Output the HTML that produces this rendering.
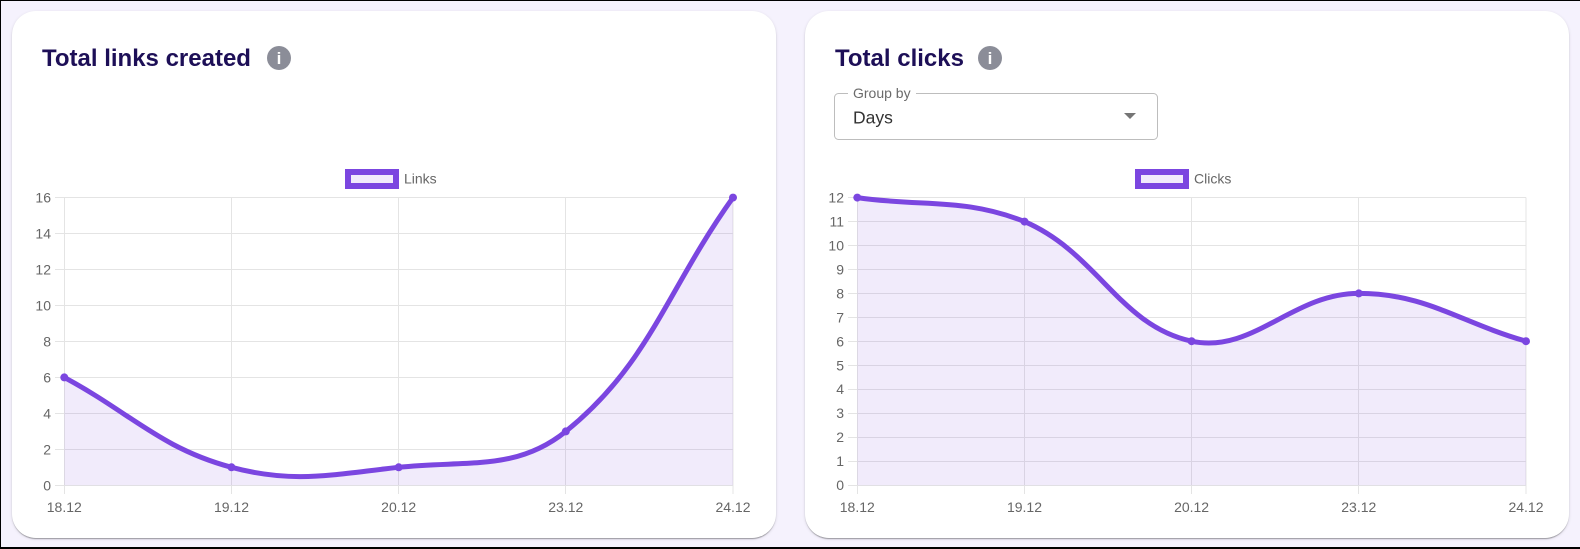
<!DOCTYPE html>
<html><head><meta charset="utf-8"><style>
*{margin:0;padding:0;box-sizing:border-box}
html,body{width:1580px;height:549px;overflow:hidden;background:#f5f2fd;font-family:"Liberation Sans",sans-serif;position:relative}
.bt{position:absolute;background:#000}
.card{position:absolute;top:11px;width:764px;height:527px;background:#fff;border-radius:24px;box-shadow:0 2px 1px -1px rgba(0,0,0,.2),0 1px 1px 0 rgba(0,0,0,.14),0 1px 3px 0 rgba(0,0,0,.12)}
svg{position:absolute;left:0;top:0}
</style></head><body>
<div class="bt" style="left:0;top:0;width:1580px;height:1px"></div>
<div class="bt" style="left:0;top:0;width:1px;height:549px"></div>
<div class="bt" style="left:0;top:547px;width:1580px;height:2px"></div>
<div class="card" style="left:12px"></div>
<div class="card" style="left:805px"></div>
<svg width="1580" height="549" viewBox="0 0 1580 549" font-family="Liberation Sans, sans-serif">
<!-- Titles -->
<text x="42" y="66" font-size="24" font-weight="bold" fill="#1d0f57">Total links created</text>
<circle cx="279" cy="58" r="12" fill="#8b8d98"/>
<text x="279" y="64" font-size="17" font-weight="bold" fill="#fff" text-anchor="middle">i</text>
<text x="835" y="66" font-size="24" font-weight="bold" fill="#1d0f57">Total clicks</text>
<circle cx="990" cy="58" r="12" fill="#8b8d98"/>
<text x="990" y="64" font-size="17" font-weight="bold" fill="#fff" text-anchor="middle">i</text>
<!-- Dropdown -->
<rect x="834.5" y="93.5" width="323" height="46" rx="4" fill="#fff" stroke="#bdbdbd" stroke-width="1"/>
<rect x="848" y="90" width="68" height="7" fill="#fff"/>
<text x="853" y="98" font-size="14" fill="#6b6b6b">Group by</text>
<text x="853" y="123.3" font-size="17.5" fill="#333">Days</text>
<polygon points="1124,113 1136,113 1130,119" fill="#757575"/>

<!-- Legends -->
<rect x="345" y="169" width="54" height="20" fill="#7b46e0"/>
<rect x="351" y="175" width="42" height="8" fill="#f1ebfb"/>
<text x="404" y="183.3" font-size="14" fill="#666">Links</text>
<rect x="1135" y="169" width="54" height="20" fill="#7b46e0"/>
<rect x="1141" y="175" width="42" height="8" fill="#f1ebfb"/>
<text x="1194" y="183.3" font-size="14" fill="#666">Clicks</text>

<!-- Left grid -->
<g stroke="#e4e4e4" stroke-width="1" fill="none">
<path d="M55 485.5H733 M55 449.5H733 M55 413.5H733 M55 377.5H733 M55 341.5H733 M55 305.5H733 M55 269.5H733 M55 233.5H733 M55 197.5H733"/>
<path d="M64.5 197.5V494 M231.5 197.5V494 M398.5 197.5V494 M565.5 197.5V494 M733 197.5V494"/>
</g>
<!-- Right grid -->
<g stroke="#e4e4e4" stroke-width="1" fill="none">
<path d="M848 485.5H1526 M848 461.5H1526 M848 437.5H1526 M848 413.5H1526 M848 389.5H1526 M848 365.5H1526 M848 341.5H1526 M848 317.5H1526 M848 293.5H1526 M848 269.5H1526 M848 245.5H1526 M848 221.5H1526 M848 197.5H1526"/>
<path d="M857.5 197.5V494 M1024.5 197.5V494 M1191.5 197.5V494 M1358.5 197.5V494 M1526 197.5V494"/>
</g>

<!-- Left series -->
<path d="M64.3,377.4 C131.2,413.4 160.4,448.2 231.5,467.3 C294.1,484.1 332.6,474.4 398.7,467.3 C466.3,460.0 515.9,471.6 565.8,431.4 C649.6,363.8 666.1,291.1 733,197.6 L733,485.3 L64.3,485.3 Z" fill="rgba(125,70,222,0.11)"/>
<path d="M64.3,377.4 C131.2,413.4 160.4,448.2 231.5,467.3 C294.1,484.1 332.6,474.4 398.7,467.3 C466.3,460.0 515.9,471.6 565.8,431.4 C649.6,363.8 666.1,291.1 733,197.6" fill="none" stroke="#7b46e0" stroke-width="5" stroke-linejoin="round" stroke-linecap="round"/>
<g fill="#7b46e0">
<circle cx="64.3" cy="377.4" r="4"/><circle cx="231.5" cy="467.3" r="4"/><circle cx="398.7" cy="467.3" r="4"/><circle cx="565.8" cy="431.4" r="4"/><circle cx="733" cy="197.6" r="4"/>
</g>

<!-- Right series -->
<path d="M857.3,197.6 C924.2,207.2 964.2,197.6 1024.5,221.6 C1097.9,253.1 1119.2,325.6 1191.6,341.2 C1252.9,354.4 1291.9,293.4 1358.8,293.4 C1425.7,293.4 1459.1,322.1 1526,341.2 L1526,485.3 L857.3,485.3 Z" fill="rgba(125,70,222,0.11)"/>
<path d="M857.3,197.6 C924.2,207.2 964.2,197.6 1024.5,221.6 C1097.9,253.1 1119.2,325.6 1191.6,341.2 C1252.9,354.4 1291.9,293.4 1358.8,293.4 C1425.7,293.4 1459.1,322.1 1526,341.2" fill="none" stroke="#7b46e0" stroke-width="5" stroke-linejoin="round" stroke-linecap="round"/>
<g fill="#7b46e0">
<circle cx="857.3" cy="197.6" r="4"/><circle cx="1024.5" cy="221.6" r="4"/><circle cx="1191.6" cy="341.2" r="4"/><circle cx="1358.8" cy="293.4" r="4"/><circle cx="1526" cy="341.2" r="4"/>
</g>

<!-- Left axis labels -->
<g font-size="14" fill="#666" text-anchor="end">
<text x="51" y="490.3">0</text><text x="51" y="454.3">2</text><text x="51" y="418.4">4</text><text x="51" y="382.4">6</text><text x="51" y="346.5">8</text><text x="51" y="310.5">10</text><text x="51" y="274.5">12</text><text x="51" y="238.6">14</text><text x="51" y="202.6">16</text>
</g>
<g font-size="14" fill="#666" text-anchor="middle">
<text x="64.3" y="512">18.12</text><text x="231.5" y="512">19.12</text><text x="398.7" y="512">20.12</text><text x="565.8" y="512">23.12</text><text x="733" y="512">24.12</text>
</g>
<!-- Right axis labels -->
<g font-size="14" fill="#666" text-anchor="end">
<text x="844" y="490">0</text><text x="844" y="466">1</text><text x="844" y="442.1">2</text><text x="844" y="418.2">3</text><text x="844" y="394.2">4</text><text x="844" y="370.3">5</text><text x="844" y="346.3">6</text><text x="844" y="322.4">7</text><text x="844" y="298.4">8</text><text x="844" y="274.5">9</text><text x="844" y="250.5">10</text><text x="844" y="226.6">11</text><text x="844" y="202.6">12</text>
</g>
<g font-size="14" fill="#666" text-anchor="middle">
<text x="857.3" y="512">18.12</text><text x="1024.5" y="512">19.12</text><text x="1191.6" y="512">20.12</text><text x="1358.8" y="512">23.12</text><text x="1526" y="512">24.12</text>
</g>
</svg>
</body></html>
